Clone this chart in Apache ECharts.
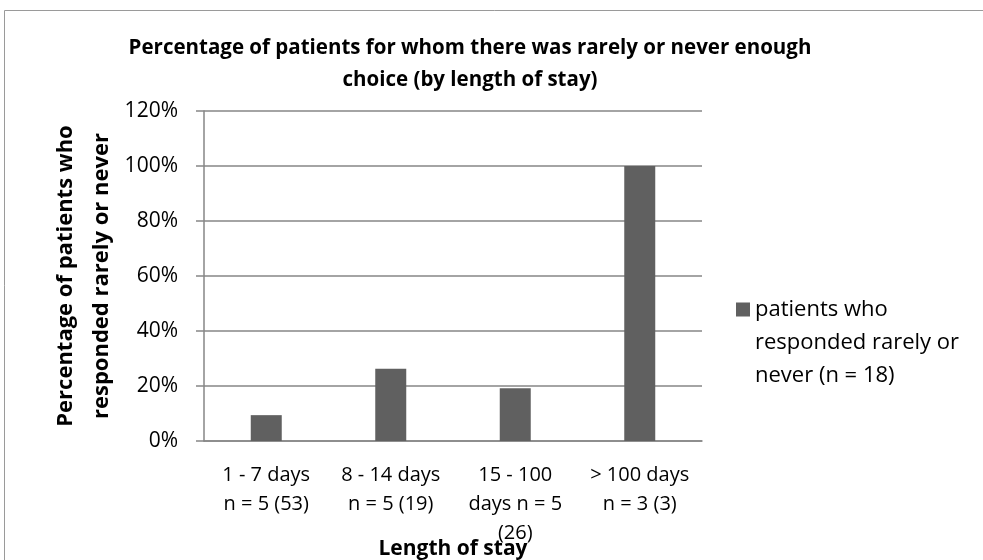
<!DOCTYPE html>
<html>
<head>
<meta charset="utf-8">
<script src="https://cdn.jsdelivr.net/npm/echarts@6/dist/echarts.min.js"></script>
<style>html,body{margin:0;padding:0;background:#fff}#c{width:983px;height:560px}</style>
</head>
<body>
<div id="c"></div>
<script>
const categories = ['1 - 7 days\nn = 5 (53)', '8 - 14 days\nn = 5 (19)', '15 - 100\ndays n = 5\n(26)', '> 100 days\nn = 3 (3)'];
const values = [0.094, 0.263, 0.192, 1.0];
const seriesName = 'patients who\nresponded rarely or\nnever (n = 18)';
const yTicks = { min: 0, max: 1.2, interval: 0.2 };
const titleText = 'Percentage of patients for whom there was rarely or never enough\nchoice (by length of stay)';
const yName = 'Percentage of patients who\nresponded rarely or never';
const xName = 'Length of stay';

const FONT = 'Open Sans';
const chart = echarts.init(document.getElementById('c'));
chart.setOption({
  backgroundColor: '#fff',
  animation: false,
  title: {
    text: titleText,
    left: 470, top: 32, textAlign: 'center', padding: 0,
    textStyle: { fontFamily: FONT, fontSize: 20.5, fontWeight: 'bold', color: '#000', lineHeight: 32 }
  },
  graphic: [{
    type: 'rect', shape: { x: 4.5, y: 10.5, width: 1000, height: 600 },
    style: { fill: 'none', stroke: '#9a9a9a', lineWidth: 1 }, silent: true
  }],
  legend: {
    left: 736, top: 293, padding: 0, itemWidth: 14, itemHeight: 80,
    icon: 'path://M0,0L14,0L14,14L0,14Z M0,80L0.01,80',
    itemStyle: { borderWidth: 0 },
    textStyle: { fontFamily: FONT, fontSize: 22, color: '#000', lineHeight: 33 },
    data: [seriesName]
  },
  grid: { left: 204, right: 281, top: 111, bottom: 119, containLabel: false, outerBoundsMode: 'none' },
  xAxis: {
    type: 'category', data: categories,
    name: xName, nameLocation: 'middle', nameGap: 96, nameMoveOverlap: false,
    nameTextStyle: { fontFamily: FONT, fontSize: 21, fontWeight: 'bold', color: '#000', lineHeight: 24 },
    axisLine: { lineStyle: { color: '#868686', width: 1.5 } },
    axisTick: { show: false },
    axisLabel: { fontFamily: FONT, fontSize: 20, color: '#000', lineHeight: 29, margin: 20, interval: 0 }
  },
  yAxis: {
    type: 'value', min: yTicks.min, max: yTicks.max, interval: yTicks.interval,
    name: yName, nameLocation: 'middle', nameGap: 84, nameMoveOverlap: false,
    nameTextStyle: { fontFamily: FONT, fontSize: 22, fontWeight: 'bold', color: '#000', lineHeight: 36 },
    axisLine: { show: true, lineStyle: { color: '#868686', width: 1.5 } },
    axisTick: { show: true, length: 8, lineStyle: { color: '#868686', width: 1.5 } },
    splitLine: { lineStyle: { color: '#868686', width: 1.5 } },
    axisLabel: { fontFamily: FONT, fontSize: 21, color: '#000', margin: 26,
      formatter: v => Math.round(v * 100) + '%' }
  },
  series: [{
    name: seriesName, type: 'bar', data: values, barWidth: 31,
    itemStyle: { color: '#606060' }
  }]
});
</script>
</body>
</html>
